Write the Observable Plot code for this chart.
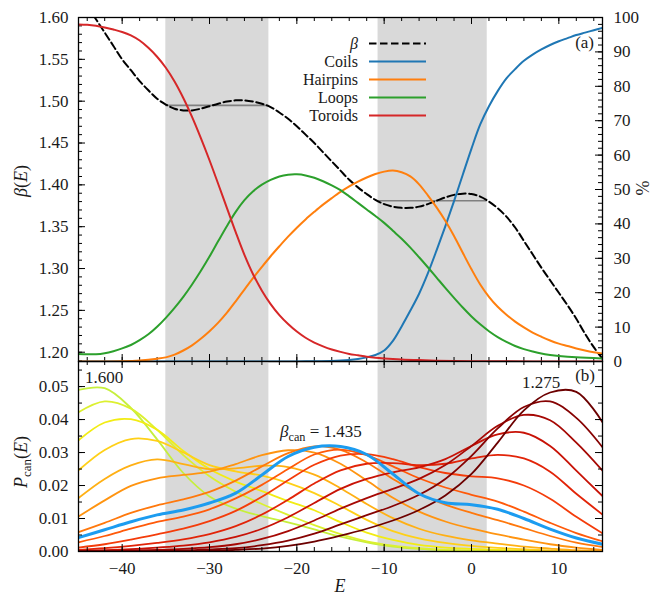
<!DOCTYPE html>
<html><head><meta charset="utf-8">
<script src="https://cdn.jsdelivr.net/npm/d3@7"></script>
<script src="https://cdn.jsdelivr.net/npm/@observablehq/plot@0.6"></script>
<style>
body{margin:0;background:#fff;}
#wrap{position:relative;width:654px;height:599px;}
#wrap svg{position:absolute;left:0;overflow:visible;}
</style></head><body><div id="wrap"></div>
<script>
// ---------- Panel (a) data ----------
const betaE   = [-44, -43, -42, -41, -40, -39, -38, -37, -36, -35, -34, -33, -32, -31, -30, -29, -28, -27, -26, -25, -24, -23, -22, -21, -20, -19, -18, -17, -16, -15, -14, -13, -12, -11, -10, -9, -8, -7, -6, -5, -4, -3, -2, -1, 0, 1, 2, 3, 4, 5, 6, 7, 8, 9, 10, 11, 12, 13, 14, 15];
const betaVal = [1.614, 1.598, 1.582, 1.566, 1.550, 1.537, 1.524, 1.513, 1.503, 1.496, 1.491, 1.489, 1.489, 1.491, 1.494, 1.497, 1.4995, 1.501, 1.501, 1.4995, 1.497, 1.493, 1.4865, 1.479, 1.470, 1.460, 1.450, 1.439, 1.428, 1.417, 1.406, 1.397, 1.389, 1.382, 1.377, 1.374, 1.3725, 1.3725, 1.374, 1.377, 1.381, 1.385, 1.388, 1.3895, 1.389, 1.386, 1.380, 1.372, 1.362, 1.349, 1.333, 1.317, 1.301, 1.286, 1.271, 1.256, 1.240, 1.222, 1.206, 1.192];

const bandStart   = [-35.0, -10.7];
const bandEnd     = [-23.2, 1.8];
const maxwellBeta = [1.495, 1.381];

const coilsE   = [-45, -20, -16, -14, -13, -12, -11, -10, -9, -8, -7, -6, -5, -4, -3, -2, -1, 0, 1, 2, 3, 4, 5, 6, 7, 8, 9, 10, 11, 12, 13, 14, 15];
const coilsPct = [0, 0.03, 0.15, 0.45, 0.75, 1.2, 1.9, 3.2, 6.0, 10.2, 14.8, 19.7, 25.6, 32.3, 39.3, 46.6, 54.3, 61.9, 68.9, 74.2, 78.6, 82.3, 85.0, 87.4, 89.2, 90.7, 92.0, 93.1, 94.0, 94.9, 95.6, 96.3, 97.0];

const hairE   = [-45, -40, -38, -36, -35, -34, -33, -32, -31, -30, -29, -28, -27, -26, -25, -24, -23, -22, -21, -20, -19, -18, -17, -16, -15, -14, -13, -12, -11, -10, -9, -8, -7, -6, -5, -4, -3, -2, -1, 0, 1, 2, 3, 4, 5, 6, 7, 8, 9, 10, 11, 12, 13, 14, 15];
const hairPct = [0, 0.1, 0.3, 0.8, 1.2, 2.0, 3.2, 4.7, 6.6, 8.8, 11.3, 14.2, 17.5, 20.9, 24.3, 27.5, 30.6, 33.5, 36.3, 38.9, 41.3, 43.5, 45.6, 47.5, 49.3, 50.9, 52.3, 53.5, 54.5, 55.2, 55.5, 55.0, 53.8, 51.5, 48.3, 44.8, 40.9, 36.5, 31.6, 26.8, 22.4, 18.8, 15.9, 13.6, 11.6, 9.9, 8.4, 7.2, 6.1, 5.2, 4.5, 3.8, 3.2, 2.7, 2.3];

const loopsE   = [-45, -44, -43, -42, -41, -40, -39, -38, -37, -36, -35, -34, -33, -32, -31, -30, -29, -28, -27, -26, -25, -24, -23, -22, -21, -20, -19, -18, -17, -16, -15, -14, -13, -12, -11, -10, -9, -8, -7, -6, -5, -4, -3, -2, -1, 0, 1, 2, 3, 4, 5, 6, 7, 8, 9, 10, 12, 15];
const loopsPct = [2.2, 2.1, 2.1, 2.4, 3.0, 3.8, 4.8, 6.2, 7.9, 10.1, 12.7, 15.6, 18.8, 22.4, 26.3, 30.5, 35.0, 39.4, 43.5, 46.9, 49.5, 51.4, 52.8, 53.8, 54.3, 54.4, 54.1, 53.4, 52.4, 51.2, 49.8, 48.0, 46.1, 44.2, 42.3, 40.3, 38.0, 35.7, 33.1, 30.3, 27.4, 24.4, 21.4, 18.5, 15.7, 13.1, 10.8, 8.8, 7.1, 5.7, 4.5, 3.6, 2.9, 2.3, 1.9, 1.6, 1.2, 0.9];

const torE   = [-45, -44, -43, -42, -41, -40, -39, -38, -37, -36, -35, -34, -33, -32, -31, -30, -29, -28, -27, -26, -25, -24, -23, -22, -21, -20, -19, -18, -17, -16, -15, -14, -13, -12, -11, -10, -8, -6, -4, 0, 15];
const torPct = [98.0, 97.9, 97.6, 97.1, 96.5, 95.8, 94.8, 93.3, 91.2, 88.6, 85.4, 81.4, 76.6, 71.1, 65.0, 58.5, 51.6, 44.6, 37.6, 31.0, 25.3, 20.6, 16.7, 13.5, 10.9, 8.7, 6.9, 5.5, 4.4, 3.5, 2.8, 2.2, 1.8, 1.4, 1.1, 0.9, 0.6, 0.4, 0.25, 0.1, 0];

const seriesNames  = ["Coils", "Hairpins", "Loops", "Toroids"];
const seriesColors = ["#1f77b4", "#ff7f0e", "#2ca02c", "#d62728"];

// ---------- Panel (b) data ----------
const canE = [-45,-42,-39,-36,-33,-30,-27,-24,-21,-18,-15,-12,-9,-6,-3,0,3,6,9,12,15];
const p1600 = [0.0490,0.0495,0.0435,0.0340,0.0238,0.0167,0.0130,0.0107,0.0088,0.0067,0.0045,0.0028,0.0015,0.0008,0.0004,0.0002,0.0001,0,0,0,0];
const p1575 = [0.0422,0.0455,0.0433,0.0369,0.0292,0.0228,0.0181,0.0144,0.0111,0.0080,0.0053,0.0031,0.0018,0.0010,0.0005,0.0003,0.0002,0.0001,0.0001,0,0];
const p1550 = [0.0337,0.0391,0.0401,0.0369,0.0305,0.0250,0.0212,0.0183,0.0153,0.0125,0.0089,0.0057,0.0035,0.0020,0.0012,0.0008,0.0005,0.0003,0.0001,0.0001,0];
const p1525 = [0.0246,0.0308,0.0341,0.0335,0.0300,0.0262,0.0243,0.0230,0.0208,0.0177,0.0138,0.0096,0.0062,0.0040,0.0026,0.0017,0.0011,0.0007,0.0003,0.0002,0.0001];
const p1500 = [0.0162,0.0220,0.0261,0.0279,0.0265,0.0250,0.0252,0.0260,0.0256,0.0233,0.0192,0.0144,0.0101,0.0069,0.0048,0.0034,0.0024,0.0015,0.0009,0.0004,0.0002];
const p1475 = [0.0106,0.0155,0.0199,0.0222,0.0232,0.0242,0.0265,0.0292,0.0307,0.0300,0.0266,0.0215,0.0163,0.0121,0.0091,0.0069,0.0052,0.0036,0.0022,0.0012,0.0005];
const p1450 = [0.0059,0.0087,0.0117,0.0140,0.0158,0.0181,0.0215,0.0258,0.0298,0.0319,0.0308,0.0270,0.0220,0.0175,0.0142,0.0117,0.0095,0.0071,0.0047,0.0027,0.0014];
const p1425 = [0.0028,0.0047,0.0069,0.0090,0.0106,0.0128,0.0161,0.0202,0.0250,0.0294,0.0309,0.0292,0.0258,0.0222,0.0194,0.0172,0.0151,0.0121,0.0087,0.0056,0.0031];
const p1400 = [0.0012,0.0022,0.0036,0.0052,0.0069,0.0092,0.0123,0.0166,0.0216,0.0263,0.0291,0.0295,0.0280,0.0256,0.0238,0.0228,0.0222,0.0200,0.0160,0.0105,0.0055];
const p1375 = [0.0005,0.0010,0.0017,0.0026,0.0037,0.0053,0.0077,0.0112,0.0157,0.0206,0.0246,0.0266,0.0268,0.0262,0.0266,0.0282,0.0293,0.0282,0.0242,0.0175,0.0112];
const p1350 = [0.0002,0.0004,0.0007,0.0012,0.0018,0.0028,0.0044,0.0069,0.0104,0.0147,0.0190,0.0220,0.0240,0.0255,0.0280,0.0320,0.0355,0.0360,0.0320,0.0245,0.0168];
const p1325 = [0.0001,0.0001,0.0003,0.0005,0.0008,0.0013,0.0022,0.0038,0.0062,0.0094,0.0130,0.0162,0.0190,0.0220,0.0262,0.0320,0.0381,0.0414,0.0398,0.0330,0.0245];
const p1300 = [0,0,0.0001,0.0002,0.0003,0.0006,0.0010,0.0019,0.0033,0.0054,0.0082,0.0110,0.0138,0.0172,0.0220,0.0290,0.0373,0.0438,0.0455,0.0405,0.0316];
const p1275 = [0,0,0,0.0001,0.0001,0.0002,0.0005,0.0009,0.0017,0.0030,0.0048,0.0069,0.0094,0.0126,0.0170,0.0235,0.0330,0.0428,0.0482,0.0484,0.0392];
const pCan1435 = [0.0042,0.0066,0.0090,0.0111,0.0126,0.0147,0.0177,0.0232,0.0288,0.0316,0.0318,0.0294,0.0235,0.0175,0.0148,0.0142,0.0128,0.0100,0.0068,0.0041,0.0022];

const canCurves = [p1600,p1575,p1550,p1525,p1500,p1475,p1450,p1425,p1400,p1375,p1350,p1325,p1300,p1275];
const canColors = ["#c6ef3c","#dcf030","#f2ec14","#ffd018","#ffb014","#ff9410","#ff780c","#ff5a0a","#f43c0a","#e22408","#c81206","#a60804","#860202","#6c0000"];
const blueColor = "#1c9cf0";

// ---------- ticks ----------
const xMajor    = [-40, -30, -20, -10, 0, 10];
const betaTicks = [1.20, 1.25, 1.30, 1.35, 1.40, 1.45, 1.50, 1.55, 1.60];
const pctTicks  = [0, 10, 20, 30, 40, 50, 60, 70, 80, 90, 100];
const pTicks    = [0.00, 0.01, 0.02, 0.03, 0.04, 0.05];
const xMinor    = d3.range(-44, 15, 2);
const betaMinor = d3.range(119, 161).map(v => v / 100);
const pctMinor  = d3.range(0, 101, 2);
const pMinor    = d3.range(0, 12).map(v => v * 0.005);

// ---------- layout ----------
const FONT = "\"Liberation Serif\", \"DejaVu Serif\", serif";
const TXT = "#1a1a1a";
const W = 654, ML = 78, MR = 52;
const IW = W - ML - MR;
const HA = 361, MTA = 17, IHA = HA - MTA;
const HB = 238, MBB = 48, IHB = HB - MBB;
const BETA_LO = 1.1889, BETA_HI = 1.60;
const MAJ = 7, MIN = 4;
const baseStyle = {background: "transparent", fontFamily: FONT, fontSize: "17px", color: TXT, overflow: "visible"};
const minusFmt = d => (d < 0 ? "\u2212" + Math.abs(d) : String(d));
const rows = (xs, ys) => xs.map((x, i) => ({x, y: ys[i]}));
const bands = bandStart.map((s, i) => ({s, e: bandEnd[i], b: maxwellBeta[i]}));

function xTicks(ih) {
  return [
    Plot.tickX(xMinor, {x: d => d, insetBottom: ih - MIN, stroke: "#000"}),
    Plot.tickX(xMajor, {x: d => d, insetBottom: ih - MAJ, stroke: "#000"}),
    Plot.tickX(xMinor, {x: d => d, insetTop: ih - MIN, stroke: "#000"}),
    Plot.tickX(xMajor, {x: d => d, insetTop: ih - MAJ, stroke: "#000"})
  ];
}

// Panel (a), left axis (beta)
const A1 = Plot.plot({
  width: W, height: HA, marginTop: MTA, marginBottom: 0, marginLeft: ML, marginRight: MR,
  style: baseStyle,
  x: {domain: [-45, 15], axis: null},
  y: {domain: [BETA_LO, BETA_HI], label: null},
  marks: [
    Plot.rect(bands, {x1: "s", x2: "e", fill: "#d9d9d9"}),
    Plot.ruleY(bands, {y: "b", x1: "s", x2: "e", stroke: "#808080", strokeWidth: 1.6}),
    Plot.line(rows(betaE, betaVal), {x: "x", y: "y", stroke: "#000", strokeWidth: 2, strokeDasharray: "7.5,3.5", curve: "catmull-rom", clip: true}),
    Plot.axisY({anchor: "left", ticks: betaTicks, tickSize: 0, tickPadding: 10, tickFormat: d3.format(".2f"), label: null}),
    Plot.tickY(betaMinor, {y: d => d, insetRight: IW - MIN, stroke: "#000"}),
    Plot.tickY(betaTicks, {y: d => d, insetRight: IW - MAJ, stroke: "#000"}),
    ...xTicks(IHA)
  ]
});

// Panel (a), right axis (%)
const pctSeries = [[coilsE, coilsPct], [hairE, hairPct], [loopsE, loopsPct], [torE, torPct]];
const A2 = Plot.plot({
  width: W, height: HA, marginTop: MTA, marginBottom: 0, marginLeft: ML, marginRight: MR,
  style: baseStyle,
  x: {domain: [-45, 15], axis: null},
  y: {domain: [0, 100], label: null},
  marks: [
    ...pctSeries.map(([xs, ys], i) => Plot.line(rows(xs, ys), {x: "x", y: "y", stroke: seriesColors[i], strokeWidth: 2, curve: "catmull-rom", clip: true})),
    Plot.axisY({anchor: "right", ticks: pctTicks, tickSize: 0, tickPadding: 11, label: null}),
    Plot.tickY(pctMinor, {y: d => d, insetLeft: IW - MIN, stroke: "#000"}),
    Plot.tickY(pctTicks, {y: d => d, insetLeft: IW - MAJ, stroke: "#000"}),
    Plot.frame({stroke: "#000", strokeWidth: 1.3})
  ]
});

// Panel (b)
const B = Plot.plot({
  width: W, height: HB, marginTop: 0, marginBottom: MBB, marginLeft: ML, marginRight: MR,
  style: baseStyle,
  x: {domain: [-45, 15], label: null},
  y: {domain: [0, 0.0576], label: null},
  marks: [
    Plot.rect(bands, {x1: "s", x2: "e", fill: "#d9d9d9"}),
    ...canCurves.map((ys, k) => Plot.line(rows(canE, ys), {x: "x", y: "y", stroke: canColors[k], strokeWidth: 1.8, curve: "catmull-rom", clip: true})),
    Plot.line(rows(canE, pCan1435), {x: "x", y: "y", stroke: blueColor, strokeWidth: 3, curve: "catmull-rom", clip: true}),
    Plot.axisX({anchor: "bottom", ticks: xMajor, tickSize: 0, tickPadding: 10, tickFormat: minusFmt, label: null}),
    Plot.axisY({anchor: "left", ticks: pTicks, tickSize: 0, tickPadding: 10, tickFormat: d3.format(".2f"), label: null}),
    Plot.tickY(pMinor, {y: d => d, insetRight: IW - MIN, stroke: "#000"}),
    Plot.tickY(pTicks, {y: d => d, insetRight: IW - MAJ, stroke: "#000"}),
    Plot.tickY(pMinor, {y: d => d, insetLeft: IW - MIN, stroke: "#000"}),
    Plot.tickY(pTicks, {y: d => d, insetLeft: IW - MAJ, stroke: "#000"}),
    ...xTicks(IHB),
    Plot.frame({stroke: "#000", strokeWidth: 1.3})
  ]
});

const wrap = document.getElementById("wrap");
A1.style.top = "0px"; A2.style.top = "0px"; B.style.top = HA + "px";
wrap.append(A1, A2, B);

// ---------- overlay texts (titles, legend, annotations) ----------
const ov = d3.select(wrap).append("svg")
  .attr("width", W).attr("height", 599).style("top", "0px")
  .style("font-family", FONT).attr("font-size", 17).attr("fill", TXT);

function label(x, y, rot, parts, anchor = "middle", size = 17) {
  const t = ov.append("text").attr("text-anchor", anchor)
    .attr("transform", `translate(${x},${y}) rotate(${rot})`).attr("font-size", size);
  parts.forEach(([s, style]) => {
    const ts = t.append("tspan").text(s);
    if (style === "i") ts.attr("font-style", "italic");
    if (style === "sub") ts.attr("font-size", size * 0.72).attr("dy", 4);
    if (style === "after") ts.attr("dy", -4);
  });
  return t;
}
label(27, 181, -90, [["β", "i"], ["("], ["E", "i"], [")"]], "middle", 18);
label(27, 462, -90, [["P", "i"], ["can", "sub"], ["(", "after"], ["E", "i"], [")"]], "middle", 18);
label(649, 188, -90, [["%"]], "middle", 18);
label(340, 592, 0, [["E", "i"]], "middle", 18);
label(594, 48, 0, [["(a)"]], "end");
label(595, 381, 0, [["(b)"]], "end");
label(85, 383, 0, [["1.600"]], "start");
label(522, 388, 0, [["1.275"]], "start");
label(280, 437, 0, [["β", "i"], ["can", "sub"], [" = 1.435", "after"]], "start");

// legend
const legNames = ["β", ...seriesNames];
const legColors = ["#000", ...seriesColors];
const legY = [43.5, 61.5, 79.5, 97.5, 115.5];
legNames.forEach((n, i) => {
  const t = ov.append("text").attr("x", 358).attr("y", legY[i] + 5.3).attr("text-anchor", "end")
    .attr("font-size", 16).text(n);
  if (i === 0) t.attr("font-style", "italic");
  ov.append("line").attr("x1", 369).attr("x2", 426).attr("y1", legY[i]).attr("y2", legY[i])
    .attr("stroke", legColors[i]).attr("stroke-width", 2)
    .attr("stroke-dasharray", i === 0 ? "7.5,3.5" : null);
});
</script></body></html>
